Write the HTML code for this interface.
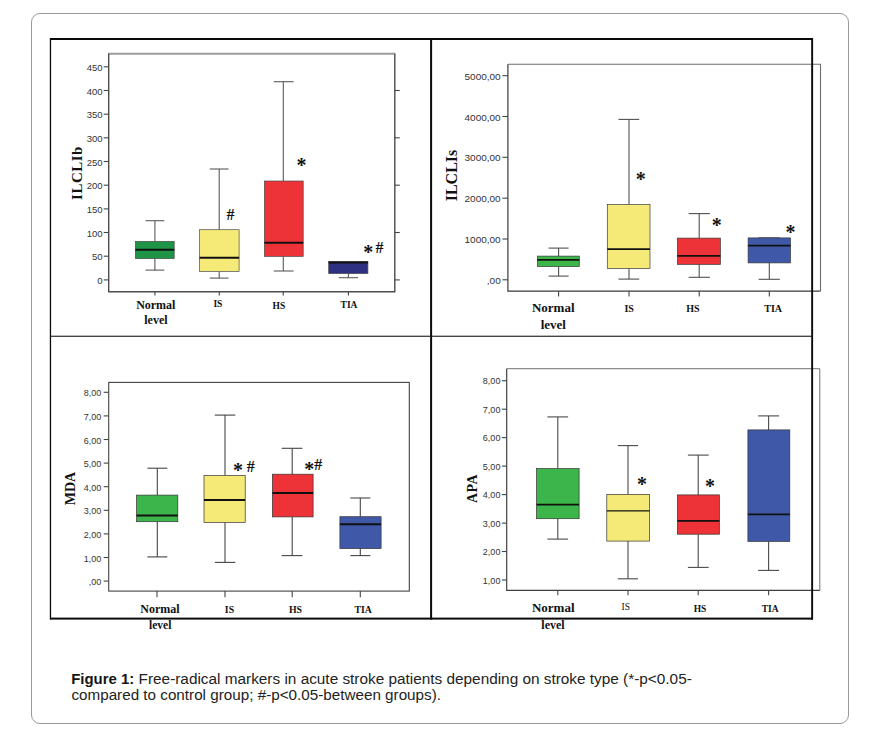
<!DOCTYPE html>
<html lang="en"><head><meta charset="utf-8"><title>Figure 1</title>
<style>
html,body{margin:0;padding:0;background:#fff;}
body{width:869px;height:741px;position:relative;overflow:hidden;font-family:"Liberation Sans", sans-serif;}
.card{position:absolute;left:31px;top:13px;width:816px;height:709px;border:1px solid #9a9a9a;border-radius:9px;background:#fff;}
svg{position:absolute;left:0;top:0;}
.cap{position:absolute;left:72px;top:671.5px;width:700px;font-size:14px;line-height:15.5px;color:#222;white-space:nowrap;}
.cap b{color:#111;}
</style></head><body>
<div class="card"></div>
<svg width="869" height="741" viewBox="0 0 869 741">
<line x1="108.0" y1="53.7" x2="395.3" y2="53.7" stroke="#9c9c9c" stroke-width="2"/>
<polyline points="108.7,53.7 108.7,291.8 394.8,291.8 394.8,53.7" fill="none" stroke="#4d4d4d" stroke-width="1.4"/>
<line x1="103.7" y1="279.9" x2="108.7" y2="279.9" stroke="#444" stroke-width="1.1"/>
<line x1="103.7" y1="256.2" x2="108.7" y2="256.2" stroke="#444" stroke-width="1.1"/>
<line x1="103.7" y1="232.5" x2="108.7" y2="232.5" stroke="#444" stroke-width="1.1"/>
<line x1="103.7" y1="208.9" x2="108.7" y2="208.9" stroke="#444" stroke-width="1.1"/>
<line x1="103.7" y1="185.2" x2="108.7" y2="185.2" stroke="#444" stroke-width="1.1"/>
<line x1="103.7" y1="161.5" x2="108.7" y2="161.5" stroke="#444" stroke-width="1.1"/>
<line x1="103.7" y1="137.8" x2="108.7" y2="137.8" stroke="#444" stroke-width="1.1"/>
<line x1="103.7" y1="114.2" x2="108.7" y2="114.2" stroke="#444" stroke-width="1.1"/>
<line x1="103.7" y1="90.5" x2="108.7" y2="90.5" stroke="#444" stroke-width="1.1"/>
<line x1="103.7" y1="66.8" x2="108.7" y2="66.8" stroke="#444" stroke-width="1.1"/>
<line x1="394.8" y1="279.9" x2="399.8" y2="279.9" stroke="#444" stroke-width="1.1"/>
<line x1="394.8" y1="232.5" x2="399.8" y2="232.5" stroke="#444" stroke-width="1.1"/>
<line x1="394.8" y1="185.2" x2="399.8" y2="185.2" stroke="#444" stroke-width="1.1"/>
<line x1="394.8" y1="137.8" x2="399.8" y2="137.8" stroke="#444" stroke-width="1.1"/>
<line x1="394.8" y1="90.5" x2="399.8" y2="90.5" stroke="#444" stroke-width="1.1"/>
<text transform="translate(102.6,283.9) scale(1.06,1)" text-anchor="end" font-family='"Liberation Sans", sans-serif' font-size="9" fill="#333">0</text>
<text transform="translate(102.6,260.2) scale(1.06,1)" text-anchor="end" font-family='"Liberation Sans", sans-serif' font-size="9" fill="#333">50</text>
<text transform="translate(102.6,236.5) scale(1.06,1)" text-anchor="end" font-family='"Liberation Sans", sans-serif' font-size="9" fill="#333">100</text>
<text transform="translate(102.6,212.9) scale(1.06,1)" text-anchor="end" font-family='"Liberation Sans", sans-serif' font-size="9" fill="#333">150</text>
<text transform="translate(102.6,189.2) scale(1.06,1)" text-anchor="end" font-family='"Liberation Sans", sans-serif' font-size="9" fill="#333">200</text>
<text transform="translate(102.6,165.5) scale(1.06,1)" text-anchor="end" font-family='"Liberation Sans", sans-serif' font-size="9" fill="#333">250</text>
<text transform="translate(102.6,141.8) scale(1.06,1)" text-anchor="end" font-family='"Liberation Sans", sans-serif' font-size="9" fill="#333">300</text>
<text transform="translate(102.6,118.2) scale(1.06,1)" text-anchor="end" font-family='"Liberation Sans", sans-serif' font-size="9" fill="#333">350</text>
<text transform="translate(102.6,94.5) scale(1.06,1)" text-anchor="end" font-family='"Liberation Sans", sans-serif' font-size="9" fill="#333">400</text>
<text transform="translate(102.6,70.8) scale(1.06,1)" text-anchor="end" font-family='"Liberation Sans", sans-serif' font-size="9" fill="#333">450</text>
<line x1="154.9" y1="291.8" x2="154.9" y2="295.6" stroke="#444" stroke-width="1.1"/>
<line x1="219.3" y1="291.8" x2="219.3" y2="295.6" stroke="#444" stroke-width="1.1"/>
<line x1="283.2" y1="291.8" x2="283.2" y2="295.6" stroke="#444" stroke-width="1.1"/>
<line x1="348.4" y1="291.8" x2="348.4" y2="295.6" stroke="#444" stroke-width="1.1"/>
<line x1="154.9" y1="220.7" x2="154.9" y2="241.4" stroke="#5a5a5a" stroke-width="1.1"/>
<line x1="145.6" y1="220.7" x2="164.3" y2="220.7" stroke="#5a5a5a" stroke-width="1.1"/>
<line x1="154.9" y1="258.6" x2="154.9" y2="270.1" stroke="#5a5a5a" stroke-width="1.1"/>
<line x1="145.6" y1="270.1" x2="164.3" y2="270.1" stroke="#5a5a5a" stroke-width="1.1"/>
<rect x="135.4" y="241.4" width="38.8" height="17.2" fill="#1f9447" stroke="#4a4a4a" stroke-width="0.7"/>
<line x1="135.4" y1="249.8" x2="174.2" y2="249.8" stroke="#111" stroke-width="2.0"/>
<line x1="219.2" y1="169.0" x2="219.2" y2="229.7" stroke="#5a5a5a" stroke-width="1.1"/>
<line x1="209.8" y1="169.0" x2="228.5" y2="169.0" stroke="#5a5a5a" stroke-width="1.1"/>
<line x1="219.2" y1="271.4" x2="219.2" y2="278.1" stroke="#5a5a5a" stroke-width="1.1"/>
<line x1="209.8" y1="278.1" x2="228.5" y2="278.1" stroke="#5a5a5a" stroke-width="1.1"/>
<rect x="199.6" y="229.7" width="39.5" height="41.7" fill="#f5ea78" stroke="#4a4a4a" stroke-width="0.7"/>
<line x1="199.6" y1="257.8" x2="239.1" y2="257.8" stroke="#111" stroke-width="2.0"/>
<line x1="283.3" y1="81.7" x2="283.3" y2="181.0" stroke="#5a5a5a" stroke-width="1.1"/>
<line x1="273.8" y1="81.7" x2="293.6" y2="81.7" stroke="#5a5a5a" stroke-width="1.1"/>
<line x1="283.3" y1="256.4" x2="283.3" y2="271.0" stroke="#5a5a5a" stroke-width="1.1"/>
<line x1="273.8" y1="271.0" x2="293.6" y2="271.0" stroke="#5a5a5a" stroke-width="1.1"/>
<rect x="264.4" y="181.0" width="38.8" height="75.4" fill="#ee3338" stroke="#4a4a4a" stroke-width="0.7"/>
<line x1="264.4" y1="242.7" x2="303.2" y2="242.7" stroke="#111" stroke-width="2.0"/>
<line x1="348.4" y1="273.6" x2="348.4" y2="277.7" stroke="#5a5a5a" stroke-width="1.1"/>
<line x1="338.8" y1="277.7" x2="358.0" y2="277.7" stroke="#5a5a5a" stroke-width="1.1"/>
<rect x="328.7" y="261.6" width="39.2" height="12.0" fill="#2e3181" stroke="#4a4a4a" stroke-width="0.7"/>
<line x1="328.7" y1="262.6" x2="367.9" y2="262.6" stroke="#111" stroke-width="2.0"/>
<text letter-spacing="0.5" transform="translate(76.6,173) rotate(-90)" text-anchor="middle" font-family='"Liberation Serif", serif' font-size="15" font-weight="bold" fill="#111" dy="0.34em">ILCLIb</text>
<text x="155.8" y="309.3" text-anchor="middle" font-family='"Liberation Serif", serif' font-size="12" font-weight="bold" fill="#111" >Normal</text>
<text x="155.9" y="324.3" text-anchor="middle" font-family='"Liberation Serif", serif' font-size="12" font-weight="bold" fill="#111" >level</text>
<text x="217.9" y="306.8" text-anchor="middle" font-family='"Liberation Serif", serif' font-size="9.5" font-weight="bold" fill="#111" >IS</text>
<text x="278.9" y="309.0" text-anchor="middle" font-family='"Liberation Serif", serif' font-size="9.5" font-weight="bold" fill="#111" >HS</text>
<text x="349.0" y="307.8" text-anchor="middle" font-family='"Liberation Serif", serif' font-size="9.5" font-weight="bold" fill="#111" >TIA</text>
<text x="230.6" y="220.2" text-anchor="middle" font-family='"Liberation Serif", serif' font-size="16" font-weight="bold" fill="#111" >#</text>
<text x="301.5" y="172.3" text-anchor="middle" font-family='"Liberation Serif", serif' font-size="20" font-weight="bold" fill="#111" >*</text>
<text x="368.3" y="258.7" text-anchor="middle" font-family='"Liberation Serif", serif' font-size="20" font-weight="bold" fill="#111" >*</text>
<text x="379.5" y="253.3" text-anchor="middle" font-family='"Liberation Serif", serif' font-size="16" font-weight="bold" fill="#111" >#</text>
<polyline points="507.9,64.2 820.5,64.2 820.5,291.1" fill="none" stroke="#6e6e6e" stroke-width="1.1"/>
<polyline points="507.9,64.2 507.9,291.1 820.5,291.1" fill="none" stroke="#3a3a3a" stroke-width="1.2"/>
<line x1="502.4" y1="279.8" x2="507.9" y2="279.8" stroke="#444" stroke-width="1.1"/>
<line x1="502.4" y1="239.0" x2="507.9" y2="239.0" stroke="#444" stroke-width="1.1"/>
<line x1="502.4" y1="198.2" x2="507.9" y2="198.2" stroke="#444" stroke-width="1.1"/>
<line x1="502.4" y1="157.3" x2="507.9" y2="157.3" stroke="#444" stroke-width="1.1"/>
<line x1="502.4" y1="116.5" x2="507.9" y2="116.5" stroke="#444" stroke-width="1.1"/>
<line x1="502.4" y1="75.7" x2="507.9" y2="75.7" stroke="#444" stroke-width="1.1"/>
<text transform="translate(500.7,283.8) scale(1.09,1)" text-anchor="end" font-family='"Liberation Sans", sans-serif' font-size="9.2" fill="#333">,00</text>
<text transform="translate(500.7,243.0) scale(1.09,1)" text-anchor="end" font-family='"Liberation Sans", sans-serif' font-size="9.2" fill="#333">1000,00</text>
<text transform="translate(500.7,202.2) scale(1.09,1)" text-anchor="end" font-family='"Liberation Sans", sans-serif' font-size="9.2" fill="#333">2000,00</text>
<text transform="translate(500.7,161.3) scale(1.09,1)" text-anchor="end" font-family='"Liberation Sans", sans-serif' font-size="9.2" fill="#333">3000,00</text>
<text transform="translate(500.7,120.5) scale(1.09,1)" text-anchor="end" font-family='"Liberation Sans", sans-serif' font-size="9.2" fill="#333">4000,00</text>
<text transform="translate(500.7,79.7) scale(1.09,1)" text-anchor="end" font-family='"Liberation Sans", sans-serif' font-size="9.2" fill="#333">5000,00</text>
<line x1="558.6" y1="291.1" x2="558.6" y2="296.5" stroke="#444" stroke-width="1.1"/>
<line x1="629" y1="291.1" x2="629" y2="296.5" stroke="#444" stroke-width="1.1"/>
<line x1="699.2" y1="291.1" x2="699.2" y2="296.5" stroke="#444" stroke-width="1.1"/>
<line x1="769.3" y1="291.1" x2="769.3" y2="296.5" stroke="#444" stroke-width="1.1"/>
<line x1="558.6" y1="248.1" x2="558.6" y2="256.1" stroke="#505050" stroke-width="1.1"/>
<line x1="548.6" y1="248.1" x2="568.6" y2="248.1" stroke="#505050" stroke-width="1.1"/>
<line x1="558.6" y1="266.6" x2="558.6" y2="276.1" stroke="#505050" stroke-width="1.1"/>
<line x1="548.6" y1="276.1" x2="568.6" y2="276.1" stroke="#505050" stroke-width="1.1"/>
<rect x="537.4" y="256.1" width="41.9" height="10.5" fill="#3cb54a" stroke="#3a3a3a" stroke-width="0.7"/>
<line x1="537.4" y1="259.9" x2="579.3" y2="259.9" stroke="#111" stroke-width="1.8"/>
<line x1="629.0" y1="119.4" x2="629.0" y2="204.5" stroke="#505050" stroke-width="1.1"/>
<line x1="618.5" y1="119.4" x2="639.2" y2="119.4" stroke="#505050" stroke-width="1.1"/>
<line x1="629.0" y1="268.6" x2="629.0" y2="279.1" stroke="#505050" stroke-width="1.1"/>
<line x1="618.5" y1="279.1" x2="639.2" y2="279.1" stroke="#505050" stroke-width="1.1"/>
<rect x="607.3" y="204.5" width="42.7" height="64.1" fill="#f5ea78" stroke="#3a3a3a" stroke-width="0.7"/>
<line x1="607.3" y1="249.1" x2="650.0" y2="249.1" stroke="#111" stroke-width="1.8"/>
<line x1="699.2" y1="213.6" x2="699.2" y2="238.1" stroke="#505050" stroke-width="1.1"/>
<line x1="688.7" y1="213.6" x2="709.9" y2="213.6" stroke="#505050" stroke-width="1.1"/>
<line x1="699.2" y1="264.4" x2="699.2" y2="277.3" stroke="#505050" stroke-width="1.1"/>
<line x1="688.7" y1="277.3" x2="709.9" y2="277.3" stroke="#505050" stroke-width="1.1"/>
<rect x="677.4" y="238.1" width="43.0" height="26.3" fill="#ee3338" stroke="#3a3a3a" stroke-width="0.7"/>
<line x1="677.4" y1="255.9" x2="720.4" y2="255.9" stroke="#111" stroke-width="1.8"/>
<line x1="769.3" y1="237.9" x2="769.3" y2="237.9" stroke="#505050" stroke-width="1.1"/>
<line x1="758.6" y1="237.9" x2="779.8" y2="237.9" stroke="#505050" stroke-width="1.1"/>
<line x1="769.3" y1="262.9" x2="769.3" y2="279.3" stroke="#505050" stroke-width="1.1"/>
<line x1="758.6" y1="279.3" x2="779.8" y2="279.3" stroke="#505050" stroke-width="1.1"/>
<rect x="748.1" y="237.9" width="42.4" height="25.0" fill="#3f59a8" stroke="#3a3a3a" stroke-width="0.7"/>
<line x1="748.1" y1="245.6" x2="790.5" y2="245.6" stroke="#111" stroke-width="1.8"/>
<text transform="translate(451.6,175.5) rotate(-90)" text-anchor="middle" font-family='"Liberation Serif", serif' font-size="16" font-weight="bold" fill="#111" dy="0.34em">ILCLIs</text>
<text x="553.2" y="312.0" text-anchor="middle" font-family='"Liberation Serif", serif' font-size="13" font-weight="bold" fill="#111" >Normal</text>
<text x="553.3" y="329.3" text-anchor="middle" font-family='"Liberation Serif", serif' font-size="13" font-weight="bold" fill="#111" >level</text>
<text x="629.2" y="311.8" text-anchor="middle" font-family='"Liberation Serif", serif' font-size="10" font-weight="bold" fill="#111" >IS</text>
<text x="693.0" y="312.3" text-anchor="middle" font-family='"Liberation Serif", serif' font-size="10" font-weight="bold" fill="#111" >HS</text>
<text x="773.2" y="312.3" text-anchor="middle" font-family='"Liberation Serif", serif' font-size="10" font-weight="bold" fill="#111" >TIA</text>
<text x="640.7" y="185.8" text-anchor="middle" font-family='"Liberation Serif", serif' font-size="20" font-weight="bold" fill="#111" >*</text>
<text x="716.8" y="232.4" text-anchor="middle" font-family='"Liberation Serif", serif' font-size="20" font-weight="bold" fill="#111" >*</text>
<text x="790.4" y="239.4" text-anchor="middle" font-family='"Liberation Serif", serif' font-size="20" font-weight="bold" fill="#111" >*</text>
<rect x="108.7" y="382.4" width="300.6" height="208.7" fill="none" stroke="#444" stroke-width="1.1"/>
<line x1="103.7" y1="581.1" x2="108.7" y2="581.1" stroke="#444" stroke-width="1.1"/>
<line x1="103.7" y1="557.5" x2="108.7" y2="557.5" stroke="#444" stroke-width="1.1"/>
<line x1="103.7" y1="533.9" x2="108.7" y2="533.9" stroke="#444" stroke-width="1.1"/>
<line x1="103.7" y1="510.3" x2="108.7" y2="510.3" stroke="#444" stroke-width="1.1"/>
<line x1="103.7" y1="486.7" x2="108.7" y2="486.7" stroke="#444" stroke-width="1.1"/>
<line x1="103.7" y1="463.1" x2="108.7" y2="463.1" stroke="#444" stroke-width="1.1"/>
<line x1="103.7" y1="439.5" x2="108.7" y2="439.5" stroke="#444" stroke-width="1.1"/>
<line x1="103.7" y1="415.9" x2="108.7" y2="415.9" stroke="#444" stroke-width="1.1"/>
<line x1="103.7" y1="392.3" x2="108.7" y2="392.3" stroke="#444" stroke-width="1.1"/>
<text transform="translate(101.2,585.1) scale(1.0,1)" text-anchor="end" font-family='"Liberation Sans", sans-serif' font-size="9" fill="#333">,00</text>
<text transform="translate(101.2,561.5) scale(1.0,1)" text-anchor="end" font-family='"Liberation Sans", sans-serif' font-size="9" fill="#333">1,00</text>
<text transform="translate(101.2,537.9) scale(1.0,1)" text-anchor="end" font-family='"Liberation Sans", sans-serif' font-size="9" fill="#333">2,00</text>
<text transform="translate(101.2,514.3) scale(1.0,1)" text-anchor="end" font-family='"Liberation Sans", sans-serif' font-size="9" fill="#333">3,00</text>
<text transform="translate(101.2,490.7) scale(1.0,1)" text-anchor="end" font-family='"Liberation Sans", sans-serif' font-size="9" fill="#333">4,00</text>
<text transform="translate(101.2,467.1) scale(1.0,1)" text-anchor="end" font-family='"Liberation Sans", sans-serif' font-size="9" fill="#333">5,00</text>
<text transform="translate(101.2,443.5) scale(1.0,1)" text-anchor="end" font-family='"Liberation Sans", sans-serif' font-size="9" fill="#333">6,00</text>
<text transform="translate(101.2,419.9) scale(1.0,1)" text-anchor="end" font-family='"Liberation Sans", sans-serif' font-size="9" fill="#333">7,00</text>
<text transform="translate(101.2,396.3) scale(1.0,1)" text-anchor="end" font-family='"Liberation Sans", sans-serif' font-size="9" fill="#333">8,00</text>
<line x1="157" y1="591.1" x2="157" y2="597.3" stroke="#444" stroke-width="1.1"/>
<line x1="225" y1="591.1" x2="225" y2="597.3" stroke="#444" stroke-width="1.1"/>
<line x1="292.2" y1="591.1" x2="292.2" y2="597.3" stroke="#444" stroke-width="1.1"/>
<line x1="360.3" y1="591.1" x2="360.3" y2="597.3" stroke="#444" stroke-width="1.1"/>
<line x1="157.3" y1="468.2" x2="157.3" y2="495.1" stroke="#454545" stroke-width="1.1"/>
<line x1="147.4" y1="468.2" x2="167.3" y2="468.2" stroke="#454545" stroke-width="1.1"/>
<line x1="157.3" y1="521.7" x2="157.3" y2="556.9" stroke="#454545" stroke-width="1.1"/>
<line x1="147.4" y1="556.9" x2="167.3" y2="556.9" stroke="#454545" stroke-width="1.1"/>
<rect x="136.6" y="495.1" width="41.2" height="26.6" fill="#3cb54a" stroke="#333" stroke-width="0.7"/>
<line x1="136.6" y1="515.4" x2="177.8" y2="515.4" stroke="#111" stroke-width="2.0"/>
<line x1="225.0" y1="415.1" x2="225.0" y2="475.5" stroke="#454545" stroke-width="1.1"/>
<line x1="214.8" y1="415.1" x2="235.3" y2="415.1" stroke="#454545" stroke-width="1.1"/>
<line x1="225.0" y1="522.4" x2="225.0" y2="562.4" stroke="#454545" stroke-width="1.1"/>
<line x1="214.8" y1="562.4" x2="235.3" y2="562.4" stroke="#454545" stroke-width="1.1"/>
<rect x="204.0" y="475.5" width="41.2" height="46.9" fill="#f5ea78" stroke="#333" stroke-width="0.7"/>
<line x1="204.0" y1="500.1" x2="245.2" y2="500.1" stroke="#111" stroke-width="2.0"/>
<line x1="292.2" y1="448.3" x2="292.2" y2="474.2" stroke="#454545" stroke-width="1.1"/>
<line x1="281.7" y1="448.3" x2="302.4" y2="448.3" stroke="#454545" stroke-width="1.1"/>
<line x1="292.2" y1="516.9" x2="292.2" y2="555.6" stroke="#454545" stroke-width="1.1"/>
<line x1="281.7" y1="555.6" x2="302.4" y2="555.6" stroke="#454545" stroke-width="1.1"/>
<rect x="272.4" y="474.2" width="40.7" height="42.7" fill="#ee3338" stroke="#333" stroke-width="0.7"/>
<line x1="272.4" y1="493.0" x2="313.1" y2="493.0" stroke="#111" stroke-width="2.0"/>
<line x1="360.3" y1="498.0" x2="360.3" y2="516.7" stroke="#454545" stroke-width="1.1"/>
<line x1="350.3" y1="498.0" x2="370.3" y2="498.0" stroke="#454545" stroke-width="1.1"/>
<line x1="360.3" y1="548.6" x2="360.3" y2="555.6" stroke="#454545" stroke-width="1.1"/>
<line x1="350.3" y1="555.6" x2="370.3" y2="555.6" stroke="#454545" stroke-width="1.1"/>
<rect x="339.9" y="516.7" width="41.2" height="31.9" fill="#3f59a8" stroke="#333" stroke-width="0.7"/>
<line x1="339.9" y1="524.2" x2="381.1" y2="524.2" stroke="#111" stroke-width="2.0"/>
<text transform="translate(70.6,488.5) rotate(-90)" text-anchor="middle" font-family='"Liberation Serif", serif' font-size="14" font-weight="bold" fill="#111" dy="0.34em">MDA</text>
<text x="159.9" y="613.0" text-anchor="middle" font-family='"Liberation Serif", serif' font-size="12" font-weight="bold" fill="#111" >Normal</text>
<text x="160.2" y="629.0" text-anchor="middle" font-family='"Liberation Serif", serif' font-size="11.5" font-weight="bold" fill="#111" >level</text>
<text x="229.5" y="612.6" text-anchor="middle" font-family='"Liberation Serif", serif' font-size="9.8" font-weight="bold" fill="#111" >IS</text>
<text x="295.5" y="613.1" text-anchor="middle" font-family='"Liberation Serif", serif' font-size="9.8" font-weight="bold" fill="#111" >HS</text>
<text x="363.2" y="612.6" text-anchor="middle" font-family='"Liberation Serif", serif' font-size="9.8" font-weight="bold" fill="#111" >TIA</text>
<text x="238.1" y="476.5" text-anchor="middle" font-family='"Liberation Serif", serif' font-size="20" font-weight="bold" fill="#111" >*</text>
<text x="250.8" y="471.7" text-anchor="middle" font-family='"Liberation Serif", serif' font-size="16" font-weight="bold" fill="#111" >#</text>
<text x="309.3" y="475.5" text-anchor="middle" font-family='"Liberation Serif", serif' font-size="20" font-weight="bold" fill="#111" >*</text>
<text x="318.2" y="470.2" text-anchor="middle" font-family='"Liberation Serif", serif' font-size="16" font-weight="bold" fill="#111" >#</text>
<polyline points="506.7,368.7 819.8,368.7 819.8,590.3" fill="none" stroke="#707070" stroke-width="1.0"/>
<polyline points="506.7,368.7 506.7,590.3 819.8,590.3" fill="none" stroke="#404040" stroke-width="1.2"/>
<line x1="501.9" y1="580.0" x2="506.7" y2="580.0" stroke="#444" stroke-width="1.1"/>
<line x1="501.9" y1="551.5" x2="506.7" y2="551.5" stroke="#444" stroke-width="1.1"/>
<line x1="501.9" y1="523.1" x2="506.7" y2="523.1" stroke="#444" stroke-width="1.1"/>
<line x1="501.9" y1="494.6" x2="506.7" y2="494.6" stroke="#444" stroke-width="1.1"/>
<line x1="501.9" y1="466.1" x2="506.7" y2="466.1" stroke="#444" stroke-width="1.1"/>
<line x1="501.9" y1="437.6" x2="506.7" y2="437.6" stroke="#444" stroke-width="1.1"/>
<line x1="501.9" y1="409.2" x2="506.7" y2="409.2" stroke="#444" stroke-width="1.1"/>
<line x1="501.9" y1="380.7" x2="506.7" y2="380.7" stroke="#444" stroke-width="1.1"/>
<text transform="translate(500.4,583.6) scale(1.0,1)" text-anchor="end" font-family='"Liberation Sans", sans-serif' font-size="9" fill="#333">1,00</text>
<text transform="translate(500.4,555.1) scale(1.0,1)" text-anchor="end" font-family='"Liberation Sans", sans-serif' font-size="9" fill="#333">2,00</text>
<text transform="translate(500.4,526.7) scale(1.0,1)" text-anchor="end" font-family='"Liberation Sans", sans-serif' font-size="9" fill="#333">3,00</text>
<text transform="translate(500.4,498.2) scale(1.0,1)" text-anchor="end" font-family='"Liberation Sans", sans-serif' font-size="9" fill="#333">4,00</text>
<text transform="translate(500.4,469.7) scale(1.0,1)" text-anchor="end" font-family='"Liberation Sans", sans-serif' font-size="9" fill="#333">5,00</text>
<text transform="translate(500.4,441.2) scale(1.0,1)" text-anchor="end" font-family='"Liberation Sans", sans-serif' font-size="9" fill="#333">6,00</text>
<text transform="translate(500.4,412.8) scale(1.0,1)" text-anchor="end" font-family='"Liberation Sans", sans-serif' font-size="9" fill="#333">7,00</text>
<text transform="translate(500.4,384.3) scale(1.0,1)" text-anchor="end" font-family='"Liberation Sans", sans-serif' font-size="9" fill="#333">8,00</text>
<line x1="557.8" y1="590.3" x2="557.8" y2="595.3" stroke="#444" stroke-width="1.1"/>
<line x1="628" y1="590.3" x2="628" y2="595.3" stroke="#444" stroke-width="1.1"/>
<line x1="698.2" y1="590.3" x2="698.2" y2="595.3" stroke="#444" stroke-width="1.1"/>
<line x1="768.6" y1="590.3" x2="768.6" y2="595.3" stroke="#444" stroke-width="1.1"/>
<line x1="557.8" y1="416.9" x2="557.8" y2="468.6" stroke="#4a4a4a" stroke-width="1.1"/>
<line x1="547.4" y1="416.9" x2="568.1" y2="416.9" stroke="#4a4a4a" stroke-width="1.1"/>
<line x1="557.8" y1="518.7" x2="557.8" y2="539.1" stroke="#4a4a4a" stroke-width="1.1"/>
<line x1="547.4" y1="539.1" x2="568.1" y2="539.1" stroke="#4a4a4a" stroke-width="1.1"/>
<rect x="536.6" y="468.6" width="42.5" height="50.1" fill="#3cb54a" stroke="#333" stroke-width="0.7"/>
<line x1="536.6" y1="504.6" x2="579.1" y2="504.6" stroke="#111" stroke-width="1.6"/>
<line x1="628.0" y1="445.6" x2="628.0" y2="494.4" stroke="#4a4a4a" stroke-width="1.1"/>
<line x1="617.8" y1="445.6" x2="638.0" y2="445.6" stroke="#4a4a4a" stroke-width="1.1"/>
<line x1="628.0" y1="541.1" x2="628.0" y2="578.8" stroke="#4a4a4a" stroke-width="1.1"/>
<line x1="617.8" y1="578.8" x2="638.0" y2="578.8" stroke="#4a4a4a" stroke-width="1.1"/>
<rect x="606.8" y="494.4" width="42.7" height="46.7" fill="#f5ea78" stroke="#333" stroke-width="0.7"/>
<line x1="606.8" y1="510.9" x2="649.5" y2="510.9" stroke="#111" stroke-width="1.3"/>
<line x1="698.2" y1="455.1" x2="698.2" y2="494.9" stroke="#4a4a4a" stroke-width="1.1"/>
<line x1="687.9" y1="455.1" x2="708.7" y2="455.1" stroke="#4a4a4a" stroke-width="1.1"/>
<line x1="698.2" y1="534.2" x2="698.2" y2="567.4" stroke="#4a4a4a" stroke-width="1.1"/>
<line x1="687.9" y1="567.4" x2="708.7" y2="567.4" stroke="#4a4a4a" stroke-width="1.1"/>
<rect x="677.4" y="494.9" width="42.0" height="39.3" fill="#ee3338" stroke="#333" stroke-width="0.7"/>
<line x1="677.4" y1="520.9" x2="719.4" y2="520.9" stroke="#111" stroke-width="1.7"/>
<line x1="768.6" y1="415.9" x2="768.6" y2="429.9" stroke="#4a4a4a" stroke-width="1.1"/>
<line x1="758.1" y1="415.9" x2="779.1" y2="415.9" stroke="#4a4a4a" stroke-width="1.1"/>
<line x1="768.6" y1="541.4" x2="768.6" y2="570.4" stroke="#4a4a4a" stroke-width="1.1"/>
<line x1="758.1" y1="570.4" x2="779.1" y2="570.4" stroke="#4a4a4a" stroke-width="1.1"/>
<rect x="747.9" y="429.9" width="41.9" height="111.5" fill="#3f59a8" stroke="#333" stroke-width="0.7"/>
<line x1="747.9" y1="514.4" x2="789.8" y2="514.4" stroke="#111" stroke-width="1.7"/>
<text letter-spacing="0.5" transform="translate(471.8,488.5) rotate(-90)" text-anchor="middle" font-family='"Liberation Serif", serif' font-size="14" font-weight="bold" fill="#111" dy="0.34em">APA</text>
<text x="553.2" y="612.0" text-anchor="middle" font-family='"Liberation Serif", serif' font-size="13" font-weight="bold" fill="#111" >Normal</text>
<text x="553.0" y="629.0" text-anchor="middle" font-family='"Liberation Serif", serif' font-size="12" font-weight="bold" fill="#111" >level</text>
<text x="625.8" y="610.3" text-anchor="middle" font-family='"Liberation Serif", serif' font-size="9.5" font-weight="normal" fill="#111" >IS</text>
<text x="700.0" y="611.6" text-anchor="middle" font-family='"Liberation Serif", serif' font-size="9.5" font-weight="bold" fill="#111" >HS</text>
<text x="770.1" y="611.6" text-anchor="middle" font-family='"Liberation Serif", serif' font-size="9.5" font-weight="bold" fill="#111" >TIA</text>
<text x="641.9" y="490.7" text-anchor="middle" font-family='"Liberation Serif", serif' font-size="20" font-weight="bold" fill="#111" >*</text>
<text x="710.0" y="492.7" text-anchor="middle" font-family='"Liberation Serif", serif' font-size="20" font-weight="bold" fill="#111" >*</text>
<rect x="50" y="38" width="763" height="2" fill="#0a0a0a"/>
<rect x="50" y="617.6" width="763" height="2" fill="#0a0a0a"/>
<rect x="49.8" y="38" width="1.3" height="581.6" fill="#0a0a0a"/>
<rect x="811.2" y="38" width="1.9" height="581.6" fill="#0a0a0a"/>
<rect x="430.1" y="38" width="2" height="581.6" fill="#0a0a0a"/>
<rect x="50" y="335.7" width="762" height="1.1" fill="#1a1a1a"/>
<text x="71.2" y="683.7" font-family='"Liberation Sans", sans-serif' font-size="14" font-weight="bold" fill="#151515" textLength="63" lengthAdjust="spacingAndGlyphs">Figure 1:</text>
<text x="138.6" y="683.7" font-family='"Liberation Sans", sans-serif' font-size="14" fill="#222" textLength="553.2" lengthAdjust="spacingAndGlyphs">Free-radical markers in acute stroke patients depending on stroke type (*-p&lt;0.05-</text>
<text x="71.4" y="699.6" font-family='"Liberation Sans", sans-serif' font-size="14" fill="#222" textLength="369.6" lengthAdjust="spacingAndGlyphs">compared to control group; #-p&lt;0.05-between groups).</text>
</svg>
</body></html>
